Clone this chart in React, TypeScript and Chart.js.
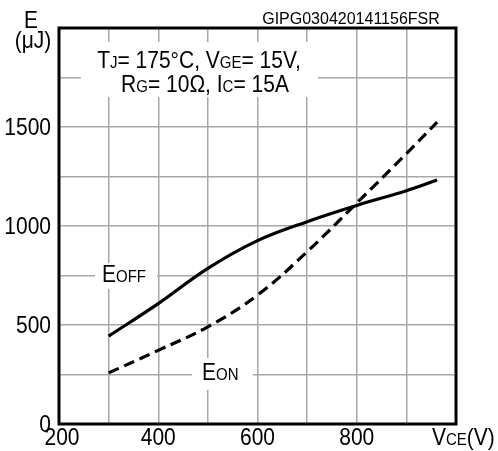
import React, { useEffect, useRef } from "react";
import { Chart, registerables } from "chart.js";

Chart.register(...registerables);

const vce = [300, 400, 500, 600, 700, 800, 900, 962];
const eoff = [444, 608, 786, 926, 1022, 1104, 1178, 1232];
const eon = [258, 372, 491, 651, 870, 1116, 1365, 1525];
const xTickLabels = [200, 400, 600, 800];
const yTickLabels = [0, 500, 1000, 1500];

const FONT = '"Liberation Sans", Arial, sans-serif';
const SY = 1.12;

type Seg = [string, boolean];

function segWidth(ctx: CanvasRenderingContext2D, segs: Seg[], big: number, small: number) {
  let w = 0;
  for (const [t, s] of segs) {
    ctx.font = `${s ? small : big}px ${FONT}`;
    w += ctx.measureText(t).width;
  }
  return w;
}

function drawSegs(
  ctx: CanvasRenderingContext2D,
  segs: Seg[],
  x: number,
  baseline: number,
  align: "left" | "center" | "right",
  big = 21,
  small = 15,
  sy = SY
) {
  const w = segWidth(ctx, segs, big, small);
  let cx = align === "left" ? x : align === "center" ? x - w / 2 : x - w;
  ctx.save();
  ctx.fillStyle = "#000";
  ctx.textAlign = "left";
  ctx.textBaseline = "alphabetic";
  for (const [t, s] of segs) {
    ctx.font = `${s ? small : big}px ${FONT}`;
    ctx.save();
    ctx.translate(cx, baseline);
    ctx.scale(1, sy);
    ctx.fillText(t, 0, 0);
    ctx.restore();
    cx += ctx.measureText(t).width;
  }
  ctx.restore();
}

const decorPlugin = {
  id: "decor",
  beforeDatasetsDraw(chart: any) {
    const ctx: CanvasRenderingContext2D = chart.ctx;
    const { left, top } = chart.chartArea;
    ctx.save();
    ctx.fillStyle = "#fff";
    ctx.fillRect(left + 22, top + 14, 237, 55);
    ctx.fillRect(left + 36, top + 235, 62, 26);
    ctx.fillRect(left + 133, top + 330, 61, 32);
    ctx.restore();
  },
  afterDatasetsDraw(chart: any) {
    const ctx: CanvasRenderingContext2D = chart.ctx;
    const { left, top, right, bottom } = chart.chartArea;
    const xs = chart.scales.x;
    const ys = chart.scales.y;

    ctx.save();
    ctx.strokeStyle = "#000";
    ctx.lineWidth = 3;
    ctx.strokeRect(left, top, right - left, bottom - top);
    ctx.restore();

    for (const v of yTickLabels) {
      const y = ys.getPixelForValue(v);
      drawSegs(ctx, [[String(v), false]], left - 8, y + 8, "right");
    }
    for (const v of xTickLabels) {
      const x = xs.getPixelForValue(v) + (v === 200 ? 3 : 0);
      drawSegs(ctx, [[String(v), false]], x, bottom + 21, "center");
    }
    drawSegs(ctx, [["V", false], ["CE", true], ["(V)", false]], right - 24, bottom + 21, "left");
    drawSegs(ctx, [["E", false]], left - 28, top, "center");
    drawSegs(ctx, [["(μJ)", false]], left - 26, top + 20, "center");

    drawSegs(ctx, [["GIPG030420141156FSR", false]], right - 105, top - 4, "center", 16, 16, 1);

    drawSegs(
      ctx,
      [["T", false], ["J", true], ["= 175°C, V", false], ["GE", true], ["= 15V,", false]],
      left + 140,
      top + 40,
      "center"
    );
    drawSegs(
      ctx,
      [["R", false], ["G", true], ["= 10Ω, I", false], ["C", true], ["= 15A", false]],
      left + 146,
      top + 64,
      "center"
    );

    drawSegs(ctx, [["E", false], ["OFF", true]], left + 43, top + 254, "left");
    drawSegs(ctx, [["E", false], ["ON", true]], left + 143, top + 352, "left");
  },
};

export default function App() {
  const ref = useRef<HTMLCanvasElement>(null);
  useEffect(() => {
    if (!ref.current) return;
    const chart = new Chart(ref.current, {
      type: "line",
      data: {
        datasets: [
          {
            label: "EOFF",
            data: vce.map((x, i) => ({ x, y: eoff[i] })),
            borderColor: "#000",
            borderWidth: 3.2,
            pointRadius: 0,
            tension: 0.4,
            fill: false,
          },
          {
            label: "EON",
            data: vce.map((x, i) => ({ x, y: eon[i] })),
            borderColor: "#000",
            borderWidth: 3.2,
            borderDash: [11, 6],
            pointRadius: 0,
            tension: 0.4,
            fill: false,
          },
        ],
      },
      options: {
        responsive: false,
        animation: false,
        devicePixelRatio: 1,
        layout: { padding: { left: 59, top: 28, right: 42, bottom: 27 } },
        plugins: { legend: { display: false }, tooltip: { enabled: false } },
        scales: {
          x: {
            type: "linear",
            min: 200,
            max: 1000,
            ticks: { display: false, stepSize: 100 },
            grid: { color: "#a8a8a8", lineWidth: 1.5, drawTicks: false },
            border: { display: false },
          },
          y: {
            type: "linear",
            min: 0,
            max: 2000,
            ticks: { display: false, stepSize: 250 },
            grid: { color: "#a8a8a8", lineWidth: 1.5, drawTicks: false },
            border: { display: false },
          },
        },
      },
      plugins: [decorPlugin],
    });
    return () => chart.destroy();
  }, []);
  return (
    <div style={{ position: "fixed", left: 0, top: 0, width: 498, height: 451, background: "#fff" }}>
      <canvas ref={ref} width={498} height={451} />
    </div>
  );
}
